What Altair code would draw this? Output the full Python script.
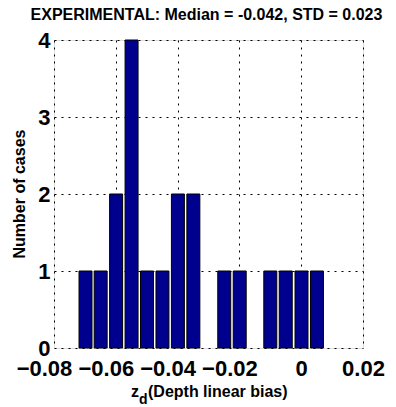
import altair as alt
import pandas as pd

# Histogram of depth linear bias (bin centres and counts)
bin_centers = [-0.0698, -0.0649, -0.0599, -0.0549, -0.0499, -0.0449, -0.0399, -0.0349,
               -0.0299, -0.0249, -0.0199, -0.0149, -0.0100, -0.0050, 0.0001, 0.0051]
counts = [1, 1, 2, 4, 1, 1, 2, 2, 0, 1, 1, 0, 1, 1, 1, 1]
half_width = 0.0021

x_ticks = [-0.08, -0.06, -0.04, -0.02, 0, 0.02]
y_ticks = [0, 1, 2, 3, 4]

title_text = "EXPERIMENTAL: Median = -0.042, STD = 0.023"
ytitle_text = "Number of cases"

df = pd.DataFrame({"center": bin_centers, "count": counts})
df["left"] = df["center"] - half_width
df["right"] = df["center"] + half_width
df = df[df["count"] > 0]

W, H = 309, 308
FONT = "Liberation Sans"

x_scale = alt.Scale(domain=[-0.08, 0.02], nice=False, zero=False)
y_scale = alt.Scale(domain=[0, 4], nice=False)

bars = alt.Chart(df).mark_bar(
    color="#00008F", stroke="black", strokeWidth=1
).encode(
    x=alt.X("left:Q", scale=x_scale,
            axis=alt.Axis(values=x_ticks, title=None, grid=True, gridColor="black",
                          gridDash=[2, 5], gridWidth=1, gridOpacity=1,
                          domain=False, ticks=False, labelFont=FONT, labelFontSize=22,
                          labelFontWeight="bold", labelColor="black", labelPadding=10,
                          labelOffset={"condition": {"test": "datum.value < 0", "value": -10},
                                       "value": 0},
                          labelExpr="datum.value == 0 ? '0' : format(datum.value, '.2f')",
                          labelFlush=False, labelOverlap=False)),
    x2="right:Q",
    y=alt.Y("count:Q", scale=y_scale,
            axis=alt.Axis(values=y_ticks, title=None, grid=True, gridColor="black",
                          gridDash=[2, 5], gridWidth=1, gridOpacity=1,
                          domain=False, ticks=False, labelFont=FONT, labelFontSize=22,
                          labelFontWeight="bold", labelColor="black", labelPadding=4,
                          format="d", labelFlush=False, labelOverlap=False)),
    y2=alt.datum(0),
)


def label(text, x, y, size, angle=0, align="left", baseline="alphabetic"):
    kw = dict(font=FONT, fontSize=size, fontWeight="bold", align=align,
              baseline=baseline, color="black")
    if angle:
        kw["angle"] = angle
    return alt.Chart(pd.DataFrame({"t": [text]})).mark_text(**kw).encode(
        x=alt.value(x), y=alt.value(y), text="t:N")


# chart title, y title and x title with subscript
title = label(title_text, W / 2 - 2, -20, 16, align="center")
ytitle = label(ytitle_text, -34, H / 2, 16, angle=270, align="center", baseline="middle")
xtitle = alt.layer(
    label("z", 77, H + 49, 16),
    label("d", 85, H + 56, 14),
    label("(Depth linear bias)", 94, H + 49, 16),
)

final = alt.layer(bars, title, ytitle, xtitle).properties(
    width=W, height=H,
    autosize=alt.AutoSizeParams(type="none"),
    padding={"left": 54, "top": 40, "right": 33, "bottom": 59},
).configure_view(
    stroke="black", strokeWidth=2
).configure(background="white")

final.save("out.html", embed_options={"renderer": "svg", "actions": False})
